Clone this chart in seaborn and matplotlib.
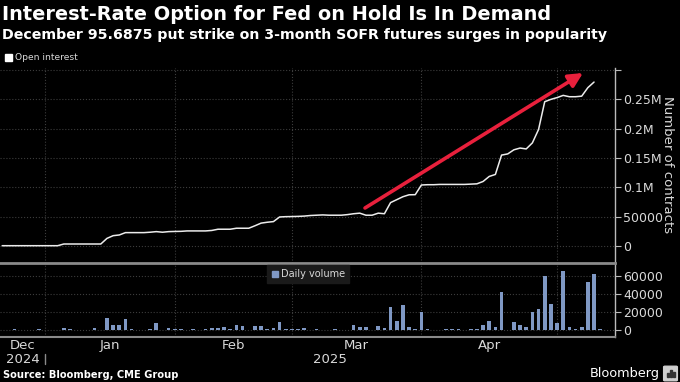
import numpy as np
import pandas as pd
import seaborn as sns
import matplotlib.pyplot as plt
from matplotlib.patches import Rectangle, FancyBboxPatch

# trading days, Dec 20 2024 .. May 12 2025
holidays = ['2024-12-25', '2025-01-01', '2025-01-20', '2025-02-17']
dates = pd.bdate_range('2024-12-20', '2025-05-12', freq='C', holidays=holidays)

# open interest (contracts), last day not yet published
open_interest = [
    500, 500, 500, 500, 500, 500, 500,                       # Dec
    500, 500, 500, 3400, 3400, 3400, 3400, 3400, 3400, 3400,
    13000, 17600, 18800, 22800, 22800, 22800, 22800, 23500, 24500, 23500, 24500,   # Jan
    24800, 25000, 25700, 25700, 25700, 25700, 26500, 28600, 28600, 28600,
    30300, 30300, 30300, 34500, 39000, 40500, 41600, 49500, 50000,                 # Feb
    50200, 50500, 51000, 52000, 52500, 53000, 52500, 52500, 52500, 53500,
    55000, 56000, 52500, 52500, 56000, 55000, 74000, 79000, 84000, 87300, 87500,   # Mar
    104000, 104500, 104500, 105000, 105000, 105000, 105000, 105000, 105500, 106000,
    110000, 118600, 122000, 155000, 157000, 164000, 167000, 165500, 175800,
    198600, 246000, 250000,                                                         # Apr
    253000, 256800, 254500, 254500, 255500, 270000, 279500, np.nan,                # May
]

daily_volume = [
    0, 0, 500, 0, 0, 0, 300,
    0, 0, 0, 1500, 1000, 0, 0, 0, 1500, 0,
    13200, 4900, 4500, 12000, 300, 0, 0, 800, 7500, 0, 1800,
    400, 400, 0, 300, 0, 300, 1500, 2200, 2500, 1000,
    4800, 3800, 0, 4100, 4000, 1000, 2000, 8200, 300,
    300, 300, 1900, 0, 200, 0, 0, 750, 0, 0,
    4900, 2600, 2600, 0, 3800, 1500, 24900, 9400, 27500, 2600, 750,
    20000, 750, 0, 0, 750, 750, 200, 0, 200, 300,
    4500, 9400, 2600, 41800, 0, 8300, 5300, 2300, 20000,
    22600, 60300, 29000,
    6800, 66000, 2300, 300, 2600, 53200, 62200, 750,
]

df = pd.DataFrame({'date': dates, 'oi': open_interest, 'vol': daily_volume})
df['pos'] = np.arange(len(df))

month_starts = df.groupby(df['date'].dt.to_period('M'))['pos'].min().tolist()[1:]
month_labels = ['Dec', 'Jan', 'Feb', 'Mar', 'Apr']

BG = '#000000'
GRID = '#3c3c3c'
TXT = '#d9d9d9'
BAR = '#7f98c4'

sns.set_theme(style='dark')
plt.rcParams['font.family'] = ['DejaVu Sans']

fig = plt.figure(figsize=(6.8, 3.82), dpi=100, facecolor=BG)
ax1 = fig.add_axes([0.0, 0.3115, 0.9044, 0.5105])
ax2 = fig.add_axes([0.0, 0.1178, 0.9044, 0.1937])

xlim = (-0.35, 99.4)

sns.lineplot(data=df, x='pos', y='oi', ax=ax1, color='#ececec', linewidth=1.1)
sns.barplot(data=df, x='pos', y='vol', ax=ax2, native_scale=True, color=BAR,
            saturation=1, width=0.6, errorbar=None, edgecolor='none', linewidth=0)

for ax in (ax1, ax2):
    ax.set_facecolor(BG)
    ax.set_xlim(*xlim)
    ax.set_xlabel('')
    ax.set_ylabel('')
    ax.yaxis.tick_right()
    ax.set_xticks(month_starts)
    ax.grid(True, color=GRID, linestyle=':', linewidth=0.8)
    for s in ('left', 'top', 'bottom'):
        ax.spines[s].set_visible(False)
    ax.spines['right'].set_color('#bbbbbb')
    ax.spines['right'].set_linewidth(1)
    ax.tick_params(axis='y', colors='#bbbbbb', labelcolor=TXT, labelsize=9,
                   length=4, width=0.8, direction='out', pad=2)

ax1.set_ylim(-29000, 303500)
ax1.set_yticks([0, 50000, 100000, 150000, 200000, 250000, 300000])
ax1.set_yticklabels(['0', '50000', '0.1M', '0.15M', '0.2M', '0.25M', ''])
ax1.tick_params(axis='x', length=0, labelbottom=False)

ax2.set_ylim(-8400, 74500)
ax2.set_yticks([0, 20000, 40000, 60000])
ax2.set_yticklabels(['0', '20000', '40000', '60000'])
ax2.spines['top'].set_visible(True)
ax2.spines['bottom'].set_visible(True)
ax2.spines['top'].set_color('#8a8a8a')
ax2.spines['top'].set_linewidth(2)
ax2.spines['bottom'].set_color('#8a8a8a')
ax2.spines['bottom'].set_linewidth(1.5)
ax2.tick_params(axis='x', colors='#8a8a8a', length=4, width=1, labelbottom=False)

# month labels centred in each month
trans = ax2.get_xaxis_transform()
edges = [xlim[0]] + month_starts
for lab, a, b in zip(month_labels, edges[:-1], edges[1:]):
    ax2.text((a + b) / 2, -0.11, lab, transform=trans,
             ha='center', va='center', color=TXT, fontsize=9.5)
ax2.text((xlim[0] + month_starts[0]) / 2, -0.30, '2024', transform=trans,
         ha='center', va='center', color=TXT, fontsize=9.5)
ax2.text((month_starts[0] + xlim[1]) / 2, -0.30, '2025', transform=trans,
         ha='center', va='center', color=TXT, fontsize=9.5)
ax2.plot([month_starts[0], month_starts[0]], [-0.23, -0.37], transform=trans,
         color='#8a8a8a', lw=1, clip_on=False)

# red arrow
ax1.annotate('', xy=(583 / 680, 1 - 73 / 382), xytext=(365 / 680, 1 - 208 / 382),
             xycoords='figure fraction', textcoords='figure fraction',
             arrowprops=dict(arrowstyle='-|>,head_length=0.7,head_width=0.35',
                             color='#e8203c', lw=2.6, shrinkA=0, shrinkB=0))

# titles
fig.text(0.003, 0.962, 'Interest-Rate Option for Fed on Hold Is In Demand',
         color='white', fontsize=13.9, fontweight='bold', va='center')
fig.text(0.003, 0.908, 'December 95.6875 put strike on 3-month SOFR futures surges in popularity',
         color='white', fontsize=10.2, fontweight='bold', va='center')

# legends
fig.patches.append(Rectangle((5 / 680, 1 - 61 / 382), 7 / 680, 7 / 382,
                             transform=fig.transFigure, color='white'))
fig.text(15 / 680, 1 - 57 / 382, 'Open interest', color=TXT, fontsize=6.6, va='center')

fig.patches.append(Rectangle((267 / 680, 1 - 283 / 382), 82 / 680, 18 / 382,
                             transform=fig.transFigure, color='#1a1a1a', zorder=5))
fig.patches.append(Rectangle((272 / 680, 1 - 277 / 382), 6 / 680, 6 / 382,
                             transform=fig.transFigure, color=BAR, zorder=6))
fig.text(281 / 680, 1 - 274 / 382, 'Daily volume', color=TXT, fontsize=7, va='center', zorder=7)

fig.text(668 / 680, 1 - 165 / 382, 'Number of contracts', color=TXT, fontsize=9.5,
         rotation=270, ha='center', va='center')

fig.text(0.005, 1 - 375 / 382, 'Source: Bloomberg, CME Group', color='white',
         fontsize=7.1, fontweight='bold', va='center')
fig.text(660 / 680, 1 - 373 / 382, 'Bloomberg', color='white', fontsize=9.3,
         ha='right', va='center')
fig.patches.append(FancyBboxPatch((665 / 680, 1 - 380 / 382), 11 / 680, 13 / 382,
                                  boxstyle='round,pad=0.002', transform=fig.transFigure,
                                  color='#cfcfcf'))
for i, h in enumerate([4, 7, 5]):
    fig.patches.append(Rectangle(((667 + i * 3) / 680, 1 - 377 / 382), 1.6 / 680, h / 382,
                                 transform=fig.transFigure, color='#333333'))

fig.savefig('out.png', dpi=100, facecolor=BG)
